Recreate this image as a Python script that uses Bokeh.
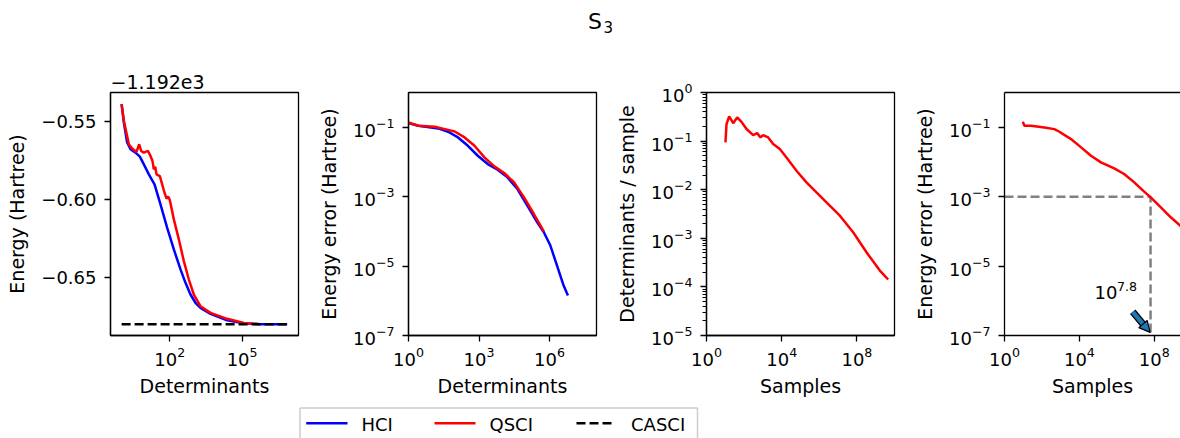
from bokeh.plotting import figure
from bokeh.layouts import column, row
from bokeh.models import (FixedTicker, Label, Arrow, NormalHead, LogAxis, Range1d,
                          CustomJSTickFormatter)
from bokeh.embed import file_html
from bokeh.resources import INLINE
from bokeh.core.properties import value

FONT = "DejaVu Sans"
HCI_COLOR = "#0000ff"
QSCI_COLOR = "#ff0000"
CASCI_COLOR = "#000000"
REF_COLOR = "#808080"
ARROW_COLOR = "#1f77b4"

# ---------------- data ----------------
ENERGY_OFFSET = -1192.0
TITLE_MAIN = "S"
TITLE_SUB = "3"
OFFSET_TEXT = "\u22121.192e3"

# Panel 1: energy (Hartree) vs determinants
hci_dets_p1 = [1, 1.24, 1.70, 2.34, 3.77, 5.71, 8.37, 13.5, 23.2, 41.1, 77.8, 147, 278, 448,
               722, 1.16e3, 1.88e3, 4.89e3, 2.4e4, 1.17e5, 5.75e5, 7.4e6]
hci_energy_p1 = [-1192.5391, -1192.5509, -1192.5637, -1192.5680, -1192.5702, -1192.5727,
                 -1192.5777, -1192.5841, -1192.5905, -1192.6034, -1192.6184, -1192.6323,
                 -1192.6451, -1192.6537, -1192.6612, -1192.6665, -1192.6698, -1192.6736,
                 -1192.6777, -1192.6796, -1192.6803, -1192.6803]
qsci_dets_p1 = [1, 1.24, 2.0, 2.74, 4.15, 5.36, 6.48, 8.37, 12.3, 15.8, 19.1, 21.7, 24.7, 28.1,
                38.6, 48.2, 60.3, 72.9, 85.5, 100, 147, 237, 382, 617, 993, 1.88e3, 4.89e3,
                2.4e4, 1.17e5, 4.92e5]
qsci_energy_p1 = [-1192.5391, -1192.5498, -1192.5648, -1192.5676, -1192.5697, -1192.5648,
                  -1192.5691, -1192.5702, -1192.5691, -1192.5723, -1192.5755, -1192.5809,
                  -1192.5792, -1192.5841, -1192.5852, -1192.5905, -1192.5959, -1192.5997,
                  -1192.5984, -1192.6006, -1192.6130, -1192.6258, -1192.6398, -1192.6516,
                  -1192.6612, -1192.6687, -1192.6730, -1192.6768, -1192.6794, -1192.6803]
casci_dets = [1, 7.4e6]
casci_energy = [-1192.6803, -1192.6803]

# Panel 2: energy error vs determinants
hci_dets_p2 = [1, 2.63, 18.4, 48.4, 128, 337, 889, 2.35e3, 6.19e3, 1.63e4, 4.32e4, 1.14e5,
               3.01e5, 5.73e5, 1.09e6, 2.09e6, 3.99e6, 6.08e6]
hci_err_p2 = [0.131, 0.110, 0.0923, 0.0740, 0.0508, 0.0292, 0.01507, 0.00869, 0.00597,
              0.00359, 0.00166, 5.5e-4, 1.82e-4, 9.4e-5, 3.9e-5, 1.03e-5, 2.75e-6, 1.42e-6]
qsci_dets_p2 = [1, 2.63, 13.3, 35.1, 92.5, 244, 644, 1.7e3, 4.49e3, 1.18e4, 3.12e4, 8.24e4,
                2.17e5, 5.73e5]
qsci_err_p2 = [0.137, 0.110, 0.1028, 0.0881, 0.0755, 0.0508, 0.0292, 0.0135, 0.00745,
               0.00479, 0.00258, 9.5e-4, 3.16e-4, 1.0e-4]

# Panel 3: determinants per sample vs samples
samples_p3 = [10.2, 11.6, 16.1, 26.2, 42.8, 72.8, 134, 303, 495, 745, 1.03e3, 1.91e3, 3.52e3,
              7.94e3, 1.8e4, 6.12e4, 2.08e5, 7.1e5, 2.42e6, 1.24e7, 6.32e7, 3.24e8, 1.66e9,
              4.6e9]
dets_per_sample = [0.094, 0.223, 0.321, 0.234, 0.306, 0.249, 0.177, 0.133, 0.146, 0.119,
                   0.133, 0.119, 0.0867, 0.0686, 0.0461, 0.0245, 0.01416, 0.00881, 0.0055,
                   0.00292, 0.00133, 5.15e-4, 2.17e-4, 1.42e-4]

# Panel 4: energy error vs samples
samples_p4 = [9.5, 11.6, 26.3, 135, 457, 851, 3.55e3, 1.23e4, 4.17e4, 1.41e5, 7.24e5, 2.45e6,
              8.51e6, 2.88e7, 6.46e7, 2.24e8, 7.59e8, 2.4e9, 4.6e9]
qsci_err_p4 = [0.143, 0.110, 0.110, 0.0984, 0.0881, 0.0740, 0.0455, 0.0262, 0.01507, 0.0097,
               0.00652, 0.00448, 0.00258, 0.00139, 9.5e-4, 4.92e-4, 2.54e-4, 1.46e-4, 1.0e-4]
target_error = 1e-3
samples_needed = 10 ** 7.8
samples_label_base = "10"
samples_label_expo = "7.8"

legend_labels = ["HCI", "QSCI", "CASCI"]

# ---------------- helpers ----------------
FRAME_H = 243


def style(p):
    p.background_fill_color = "white"
    p.border_fill_color = "white"
    p.outline_line_color = "black"
    p.outline_line_width = 1.3
    p.xgrid.visible = False
    p.ygrid.visible = False
    for ax in p.axis:
        ax.axis_line_color = "black"
        ax.axis_line_width = 1.3
        ax.major_tick_line_color = "black"
        ax.major_tick_line_width = 1.3
        ax.major_tick_out = 6
        ax.major_tick_in = 0
        ax.minor_tick_line_color = "black"
        ax.minor_tick_line_width = 1.0
        ax.minor_tick_out = 4
        ax.minor_tick_in = 0
        ax.major_label_text_font = FONT
        ax.major_label_text_font_size = "18px"
        ax.major_label_text_color = "black"
        ax.axis_label_text_font = FONT
        ax.axis_label_text_font_size = "19px"
        ax.axis_label_text_font_style = "normal"
        ax.axis_label_text_color = "black"
    p.xaxis.major_label_standoff = 5
    p.yaxis.major_label_standoff = 8
    p.xaxis.axis_label_standoff = 6
    p.yaxis.axis_label_standoff = 10


def make_panel(fw, mbl, mbr, xr, yr, ylog):
    p = figure(width=mbl + fw + mbr, height=340, frame_width=fw, frame_height=FRAME_H,
               x_axis_type="log", y_axis_type="log" if ylog else "linear",
               x_range=Range1d(*xr), y_range=Range1d(*yr),
               min_border_left=mbl, min_border_right=mbr, min_border_top=32,
               min_border_bottom=65, output_backend="svg", toolbar_location=None)
    style(p)
    return p


LW = 2.5

# ---------------- panel 1 ----------------
p1 = make_panel(188, 110, 10, (10 ** -0.461, 10 ** 7.34), (-0.6875, -0.5316), False)
p1.line(hci_dets_p1, [e - ENERGY_OFFSET for e in hci_energy_p1], line_color=HCI_COLOR, line_width=LW)
p1.line(qsci_dets_p1, [e - ENERGY_OFFSET for e in qsci_energy_p1], line_color=QSCI_COLOR, line_width=LW)
p1.line(casci_dets, [e - ENERGY_OFFSET for e in casci_energy], line_color=CASCI_COLOR,
        line_width=LW, line_dash="9 4")
p1.below[0].ticker = FixedTicker(ticks=[1e2, 1e5], minor_ticks=[])
p1.left[0].ticker = FixedTicker(ticks=[-0.65, -0.60, -0.55], minor_ticks=[])
p1.left[0].formatter = CustomJSTickFormatter(code="return tick.toFixed(2).replace('-', '\\u2212');")
p1.below[0].axis_label = "Determinants"
p1.left[0].axis_label = "Energy (Hartree)"
p1.title.text = OFFSET_TEXT
p1.title.align = "left"
p1.title.text_font = FONT
p1.title.text_font_size = "19px"
p1.title.text_font_style = "normal"
p1.title.text_color = "black"
p1.title.standoff = 8
p1.title.offset = 0

# ---------------- panel 2 ----------------
p2 = make_panel(188, 100, 10, (1, 1e8), (1e-7, 1e0), True)
p2.line(hci_dets_p2, hci_err_p2, line_color=HCI_COLOR, line_width=LW)
p2.line(qsci_dets_p2, qsci_err_p2, line_color=QSCI_COLOR, line_width=LW)
p2.below[0].ticker = FixedTicker(ticks=[1, 1e3, 1e6], minor_ticks=[])
p2.left[0].ticker = FixedTicker(ticks=[1e-7, 1e-5, 1e-3, 1e-1], minor_ticks=[])
p2.below[0].axis_label = "Determinants"
p2.left[0].axis_label = "Energy error (Hartree)"

# ---------------- panel 3 ----------------
p3 = make_panel(188, 100, 10, (1, 1e10), (1e-5, 1e0), True)
p3.line(samples_p3, dets_per_sample, line_color=QSCI_COLOR, line_width=LW)
p3.below[0].ticker = FixedTicker(ticks=[1, 1e4, 1e8], minor_ticks=[])
minor3 = [k * 10.0 ** n for n in range(-5, 0) for k in range(2, 10)]
p3.left[0].ticker = FixedTicker(ticks=[1e-5, 1e-4, 1e-3, 1e-2, 1e-1, 1e0], minor_ticks=minor3)
p3.below[0].axis_label = "Samples"
p3.left[0].axis_label = "Determinants / sample"

# ---------------- panel 4 ----------------
p4 = make_panel(176, 100, 0, (1, 10 ** 9.4), (1e-7, 1e0), True)
p4.outline_line_color = None
p4.line([1, samples_needed, samples_needed], [target_error, target_error, 1e-7],
        line_color=REF_COLOR, line_width=LW, line_dash="9 4")
p4.line(samples_p4, qsci_err_p4, line_color=QSCI_COLOR, line_width=LW)
p4.below[0].ticker = FixedTicker(ticks=[1, 1e4, 1e8], minor_ticks=[])
p4.left[0].ticker = FixedTicker(ticks=[1e-7, 1e-5, 1e-3, 1e-1], minor_ticks=[])
p4.below[0].axis_label = "Samples"
p4.left[0].axis_label = "Energy error (Hartree)"
top_axis = LogAxis(ticker=FixedTicker(ticks=[], minor_ticks=[]), axis_line_color="black",
                   axis_line_width=1.3, major_tick_line_color=None, minor_tick_line_color=None,
                   major_label_text_font_size="0px", major_label_standoff=0,
                   axis_label=None)
p4.add_layout(top_axis, "above")
# annotation "10^7.8" with arrow
p4.add_layout(Label(x=10 ** 4.81, y=10 ** -5.756, text=samples_label_base, text_font=FONT,
                    text_font_size="18px", text_baseline="middle", text_align="left",
                    text_color="black"))
p4.add_layout(Label(x=10 ** 4.81, y=10 ** -5.756, x_offset=22.5, y_offset=5.6,
                    text=samples_label_expo, text_font=FONT, text_font_size="12.6px",
                    text_baseline="middle", text_align="left", text_color="black"))
tail = (10 ** 6.85, 10 ** -6.318)
shaft_end = (10 ** 7.47, 10 ** -6.716)
tip = (10 ** 7.78, 10 ** -6.91)
p4.add_layout(Arrow(end=None, x_start=tail[0], y_start=tail[1], x_end=shaft_end[0],
                    y_end=shaft_end[1], line_color="black", line_width=7))
p4.add_layout(Arrow(end=None, x_start=tail[0], y_start=tail[1], x_end=shaft_end[0],
                    y_end=shaft_end[1], line_color=ARROW_COLOR, line_width=4.5))
p4.add_layout(Arrow(end=NormalHead(size=11, fill_color=ARROW_COLOR, line_color="black",
                                   line_width=1.2),
                    x_start=shaft_end[0], y_start=shaft_end[1], x_end=tip[0], y_end=tip[1],
                    line_alpha=0))

# ---------------- title strip ----------------
top = figure(width=1180, height=60, x_range=Range1d(0, 1180), y_range=Range1d(60, 0),
             output_backend="svg", toolbar_location=None, min_border=0,
             x_axis_location=None, y_axis_location=None)
top.outline_line_color = None
top.xgrid.visible = False
top.ygrid.visible = False
top.text(x=[587.5], y=[20.5], text=[TITLE_MAIN], text_font=value(FONT), text_font_size="22px",
         text_baseline="middle", text_align="left", text_color="black")
top.text(x=[603], y=[26], text=[TITLE_SUB], text_font=value(FONT), text_font_size="15px",
         text_baseline="middle", text_align="left", text_color="black")

# ---------------- legend strip ----------------
leg = figure(width=1180, height=38, x_range=Range1d(0, 1180), y_range=Range1d(38, 0),
             output_backend="svg", toolbar_location=None, min_border=0,
             x_axis_location=None, y_axis_location=None)
leg.outline_line_color = None
leg.xgrid.visible = False
leg.ygrid.visible = False
leg.quad(left=[299.5], right=[697], top=[7.5], bottom=[60], fill_color="white",
         line_color="#cccccc", line_width=1.5)
ly = 22.7
leg.line([305.7, 347], [ly, ly], line_color=HCI_COLOR, line_width=LW)
leg.line([434, 475], [ly, ly], line_color=QSCI_COLOR, line_width=LW)
leg.line([576, 615], [ly, ly], line_color=CASCI_COLOR, line_width=LW, line_dash="9 4")
leg.text(x=[361, 489, 630.5], y=[23.6, 23.6, 23.6], text=legend_labels, text_font=value(FONT),
         text_font_size="18px", text_baseline="middle", text_align="left",
         text_color="black")

layout = column(top, row(p1, p2, p3, p4, spacing=0), leg, spacing=0)
open("out.html", "w").write(file_html(layout, INLINE))
